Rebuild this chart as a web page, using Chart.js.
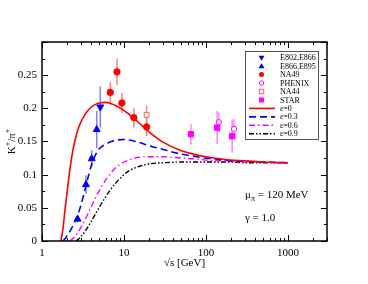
<!DOCTYPE html>
<html>
<head>
<meta charset="utf-8">
<script src="https://cdn.jsdelivr.net/npm/chart.js@4/dist/chart.umd.min.js"></script>
<style>
  html, body { margin: 0; padding: 0; background: #fff; }
  canvas { display: block; }
</style>
</head>
<body>
<canvas id="kpi-chart" width="368" height="284"></canvas>
<script>
// K+/pi+ ratio vs sqrt(s)

const FONT = 'Liberation Serif';

// model curves (same x grid for all, null = below threshold)
const curveX = [1.6, 1.7, 1.8, 1.9, 2, 2.2, 2.4, 2.6, 2.8, 3, 3.25, 3.5, 4, 4.5, 5, 6, 7, 8, 10, 12, 15, 20, 30, 50, 70, 100, 150, 200, 300, 500, 1000];
const eps00 = [null, 0, 0.018, 0.045, 0.068, 0.11, 0.139, 0.158, 0.171, 0.18, 0.188, 0.194, 0.202, 0.206, 0.208, 0.209, 0.207, 0.204, 0.197, 0.189, 0.179, 0.165, 0.149, 0.136, 0.131, 0.127, 0.124, 0.122, 0.121, 0.119, 0.118];
const eps03 = [null, null, 0, 0.003, 0.007, 0.015, 0.024, 0.033, 0.043, 0.055, 0.071, 0.087, 0.114, 0.13, 0.139, 0.146, 0.15, 0.152, 0.153, 0.152, 0.149, 0.144, 0.138, 0.131, 0.128, 0.125, 0.123, 0.121, 0.12, 0.119, 0.118];
const eps06 = [null, null, null, null, null, 0, 0.004, 0.009, 0.015, 0.021, 0.029, 0.037, 0.052, 0.065, 0.076, 0.092, 0.103, 0.111, 0.119, 0.123, 0.126, 0.127, 0.127, 0.125, 0.124, 0.122, 0.121, 0.12, 0.119, 0.119, 0.118];
const eps09 = [null, null, null, null, null, null, null, 0, 0.003, 0.007, 0.012, 0.018, 0.03, 0.041, 0.051, 0.067, 0.079, 0.088, 0.1, 0.107, 0.112, 0.116, 0.118, 0.119, 0.119, 0.119, 0.119, 0.119, 0.118, 0.118, 0.118];

// measurements
const e802X = [5.14], e802Y = [0.202], e802Err = [0.031];
const e895X = [2.72, 3.44, 4.04, 4.65], e895Y = [0.033, 0.085, 0.124, 0.168], e895Err = [0.005, 0.014, 0.013, 0.028];
const na49X = [6.81, 8.22, 9.45, 13.2, 18.9], na49Y = [0.224, 0.255, 0.208, 0.186, 0.172], na49Err = [0.016, 0.02, 0.015, 0.015, 0.014];
const phenixX = [144, 220], phenixY = [0.179, 0.169], phenixErr = [0.015, 0.015];
const na44X = [18.9], na44Y = [0.19], na44Err = [0.014];
const starX = [65.6, 137, 209], starY = [0.161, 0.171, 0.158], starErr = [0.015, 0.025, 0.025];

// axes
const xTickLabels = [1, 10, 100, 1000];
const yTickLabels = [0, 0.05, 0.1, 0.15, 0.2, 0.25];

const legendLabels = ['E802,E866', 'E866,E895', 'NA49', 'PHENIX', 'NA44', 'STAR', 'ε=0', 'ε=0.3', 'ε=0.6', 'ε=0.9'];

function pairs(xs, ys) {
    return xs.map((x, i) => ({ x: x, y: ys[i] }));
}

function pointSet(label, xs, ys, errs, errColor, style) {
    return Object.assign({
        type: 'scatter',
        label: label,
        data: pairs(xs, ys),
        errors: errs,
        errColor: errColor,
        showLine: false,
        borderWidth: 1,
        clip: false
    }, style);
}

function curveSet(label, ys, color, dash, width) {
    return {
        type: 'line',
        label: label,
        data: pairs(curveX, ys),
        borderColor: color,
        borderWidth: width,
        borderDash: dash,
        pointRadius: 0,
        fill: false,
        spanGaps: false,
        cubicInterpolationMode: 'monotone'
    };
}

const datasets = [
    pointSet('E802,E866', e802X, e802Y, e802Err, '#8080ff', { pointStyle: 'triangle', rotation: 180, pointRadius: 4, backgroundColor: '#0000ff', borderColor: '#0000ff' }),
    pointSet('E866,E895', e895X, e895Y, e895Err, '#8080ff', { pointStyle: 'triangle', pointRadius: 4, backgroundColor: '#0000ff', borderColor: '#0000ff' }),
    pointSet('NA49', na49X, na49Y, na49Err, '#ff8080', { pointStyle: 'circle', pointRadius: 3.2, backgroundColor: '#ff0000', borderColor: '#ff0000' }),
    pointSet('PHENIX', phenixX, phenixY, phenixErr, '#ff80ff', { pointStyle: 'circle', pointRadius: 2.6, backgroundColor: '#ffffff', borderColor: '#ff00ff' }),
    pointSet('NA44', na44X, na44Y, na44Err, '#ff8080', { pointStyle: 'rect', pointRadius: 3.4, backgroundColor: '#ffffff', borderColor: '#ff6060' }),
    pointSet('STAR', starX, starY, starErr, '#ff80ff', { pointStyle: 'rect', pointRadius: 3.8, backgroundColor: '#ff00ff', borderColor: '#ff00ff' }),
    curveSet('ε=0', eps00, '#ff0000', [], 1.6),
    curveSet('ε=0.3', eps03, '#0000ff', [7, 4], 1.6),
    curveSet('ε=0.6', eps06, '#ff00ff', [6, 3, 1.5, 3], 1.4),
    curveSet('ε=0.9', eps09, '#000000', [5, 2, 1.5, 2, 1.5, 2], 1.4)
];

// error bars under the markers
const errorBars = {
    id: 'errorBars',
    beforeDatasetsDraw(chart) {
        const { ctx } = chart;
        const xs = chart.scales.x, ys = chart.scales.y;
        chart.data.datasets.forEach(ds => {
            if (!ds.errors) return;
            ctx.save();
            ctx.strokeStyle = ds.errColor;
            ctx.lineWidth = 1.5;
            ds.data.forEach((p, i) => {
                const px = xs.getPixelForValue(p.x);
                ctx.beginPath();
                ctx.moveTo(px, ys.getPixelForValue(p.y - ds.errors[i]));
                ctx.lineTo(px, ys.getPixelForValue(p.y + ds.errors[i]));
                ctx.stroke();
            });
            ctx.restore();
        });
    }
};

function drawMarker(ctx, style, x, y) {
    ctx.save();
    ctx.lineWidth = 1;
    ctx.beginPath();
    if (style === 'down' || style === 'up') {
        const s = style === 'down' ? -1 : 1;
        ctx.moveTo(x - 3, y + 2 * s);
        ctx.lineTo(x + 3, y + 2 * s);
        ctx.lineTo(x, y - 3 * s);
        ctx.closePath();
        ctx.fill();
    } else if (style === 'dot') {
        ctx.arc(x, y, 2.5, 0, Math.PI * 2);
        ctx.fill();
    } else if (style === 'ring') {
        ctx.arc(x, y, 2.2, 0, Math.PI * 2);
        ctx.stroke();
    } else if (style === 'box') {
        ctx.strokeRect(x - 2.2, y - 2.2, 4.4, 4.4);
    } else if (style === 'fbox') {
        ctx.fillRect(x - 2.5, y - 2.5, 5, 5);
    }
    ctx.restore();
}

// frame, ticks, titles, legend, annotation
const decorations = {
    id: 'decorations',
    afterDraw(chart) {
        const { ctx, chartArea: a } = chart;
        const xs = chart.scales.x, ys = chart.scales.y;
        ctx.save();

        // ticks pointing inwards
        ctx.strokeStyle = '#000';
        ctx.lineWidth = 1;
        ctx.beginPath();
        for (let d = 1; d <= 1000; d *= 10) {
            for (let m = 1; m <= 9; m++) {
                const v = d * m;
                if (v > xs.max) break;
                const px = Math.round(xs.getPixelForValue(v)) + 0.5;
                const len = m === 1 ? 6 : 3;
                ctx.moveTo(px, a.bottom); ctx.lineTo(px, a.bottom - len);
                ctx.moveTo(px, a.top); ctx.lineTo(px, a.top + len);
            }
        }
        for (let i = 0; i <= 12; i++) {
            const py = Math.round(ys.getPixelForValue(i * 0.025)) + 0.5;
            const len = i % 2 === 0 ? 6 : 3;
            ctx.moveTo(a.left, py); ctx.lineTo(a.left + len, py);
            ctx.moveTo(a.right, py); ctx.lineTo(a.right - len, py);
        }
        ctx.stroke();

        // frame
        ctx.lineWidth = 1.5;
        ctx.strokeRect(a.left, a.top, a.right - a.left, a.bottom - a.top);

        // axis titles
        ctx.fillStyle = '#000';
        ctx.font = '11px "' + FONT + '"';
        ctx.textAlign = 'center';
        ctx.textBaseline = 'alphabetic';
        const cx = (a.left + a.right) / 2;
        ctx.fillText('√s [GeV]', cx, 266);

        ctx.save();
        ctx.translate(15, (a.top + a.bottom) / 2);
        ctx.rotate(-Math.PI / 2);
        ctx.textAlign = 'left';
        const parts = [['K', 11, 0], ['+', 8, -5], ['/π', 11, 0], ['+', 8, -5]];
        let total = 0;
        parts.forEach(p => { ctx.font = p[1] + 'px "' + FONT + '"'; total += ctx.measureText(p[0]).width; });
        let tx = -total / 2;
        parts.forEach(p => {
            ctx.font = p[1] + 'px "' + FONT + '"';
            ctx.fillText(p[0], tx, p[2]);
            tx += ctx.measureText(p[0]).width;
        });
        ctx.restore();

        // annotation
        ctx.textAlign = 'left';
        ctx.font = '11px "' + FONT + '"';
        ctx.fillText('μ', 245, 198);
        let w = ctx.measureText('μ').width;
        ctx.font = '8px "' + FONT + '"';
        ctx.fillText('π', 245 + w, 201);
        w += ctx.measureText('π').width;
        ctx.font = '11px "' + FONT + '"';
        ctx.fillText(' = 120 MeV', 245 + w, 198);
        ctx.fillText('γ = 1.0', 245, 221);

        // legend box
        ctx.fillStyle = '#fff';
        ctx.fillRect(245, 51, 73, 88);
        ctx.strokeStyle = '#555';
        ctx.lineWidth = 1;
        ctx.strokeRect(245.5, 51.5, 73, 88);

        const markers = [
            ['down', '#0000ff'], ['up', '#0000ff'], ['dot', '#ff0000'],
            ['ring', '#ff00ff'], ['box', '#ff6060'], ['fbox', '#ff00ff']
        ];
        ctx.font = '8px "' + FONT + '"';
        ctx.textBaseline = 'middle';
        legendLabels.forEach((lab, i) => {
            const ly = 57.7 + i * 8.45;
            if (i < markers.length) {
                ctx.fillStyle = markers[i][1];
                ctx.strokeStyle = markers[i][1];
                drawMarker(ctx, markers[i][0], 261.5, ly);
            } else {
                const ds = datasets[i];
                ctx.save();
                ctx.strokeStyle = ds.borderColor;
                ctx.lineWidth = ds.borderWidth;
                ctx.setLineDash(ds.borderDash);
                ctx.beginPath();
                ctx.moveTo(249, ly);
                ctx.lineTo(275, ly);
                ctx.stroke();
                ctx.restore();
            }
            ctx.fillStyle = '#000';
            ctx.fillText(lab, 280, ly + 0.5);
        });

        ctx.restore();
    }
};

new Chart(document.getElementById('kpi-chart'), {
    data: { datasets: datasets },
    options: {
        responsive: false,
        animation: false,
        devicePixelRatio: 1,
        layout: { padding: { left: 0, top: 42, right: 41, bottom: 0 } },
        plugins: {
            legend: { display: false },
            tooltip: { enabled: false }
        },
        scales: {
            x: {
                type: 'logarithmic',
                min: 1,
                max: 3000,
                grid: { display: false, drawTicks: false },
                border: { display: false },
                ticks: {
                    autoSkip: false,
                    maxRotation: 0,
                    padding: 6,
                    color: '#000',
                    font: { family: FONT, size: 11 },
                    callback: v => xTickLabels.includes(v) ? String(v) : ''
                },
                afterFit(scale) { scale.height = 43; }
            },
            y: {
                min: 0,
                max: 0.3,
                grid: { display: false, drawTicks: false },
                border: { display: false },
                ticks: {
                    stepSize: 0.05,
                    padding: 5,
                    color: '#000',
                    font: { family: FONT, size: 11 },
                    callback: v => {
                        const r = Math.round(v * 100) / 100;
                        return yTickLabels.includes(r) ? String(r) : '';
                    }
                },
                afterFit(scale) { scale.width = 42; }
            }
        }
    },
    plugins: [errorBars, decorations]
});
</script>
</body>
</html>
